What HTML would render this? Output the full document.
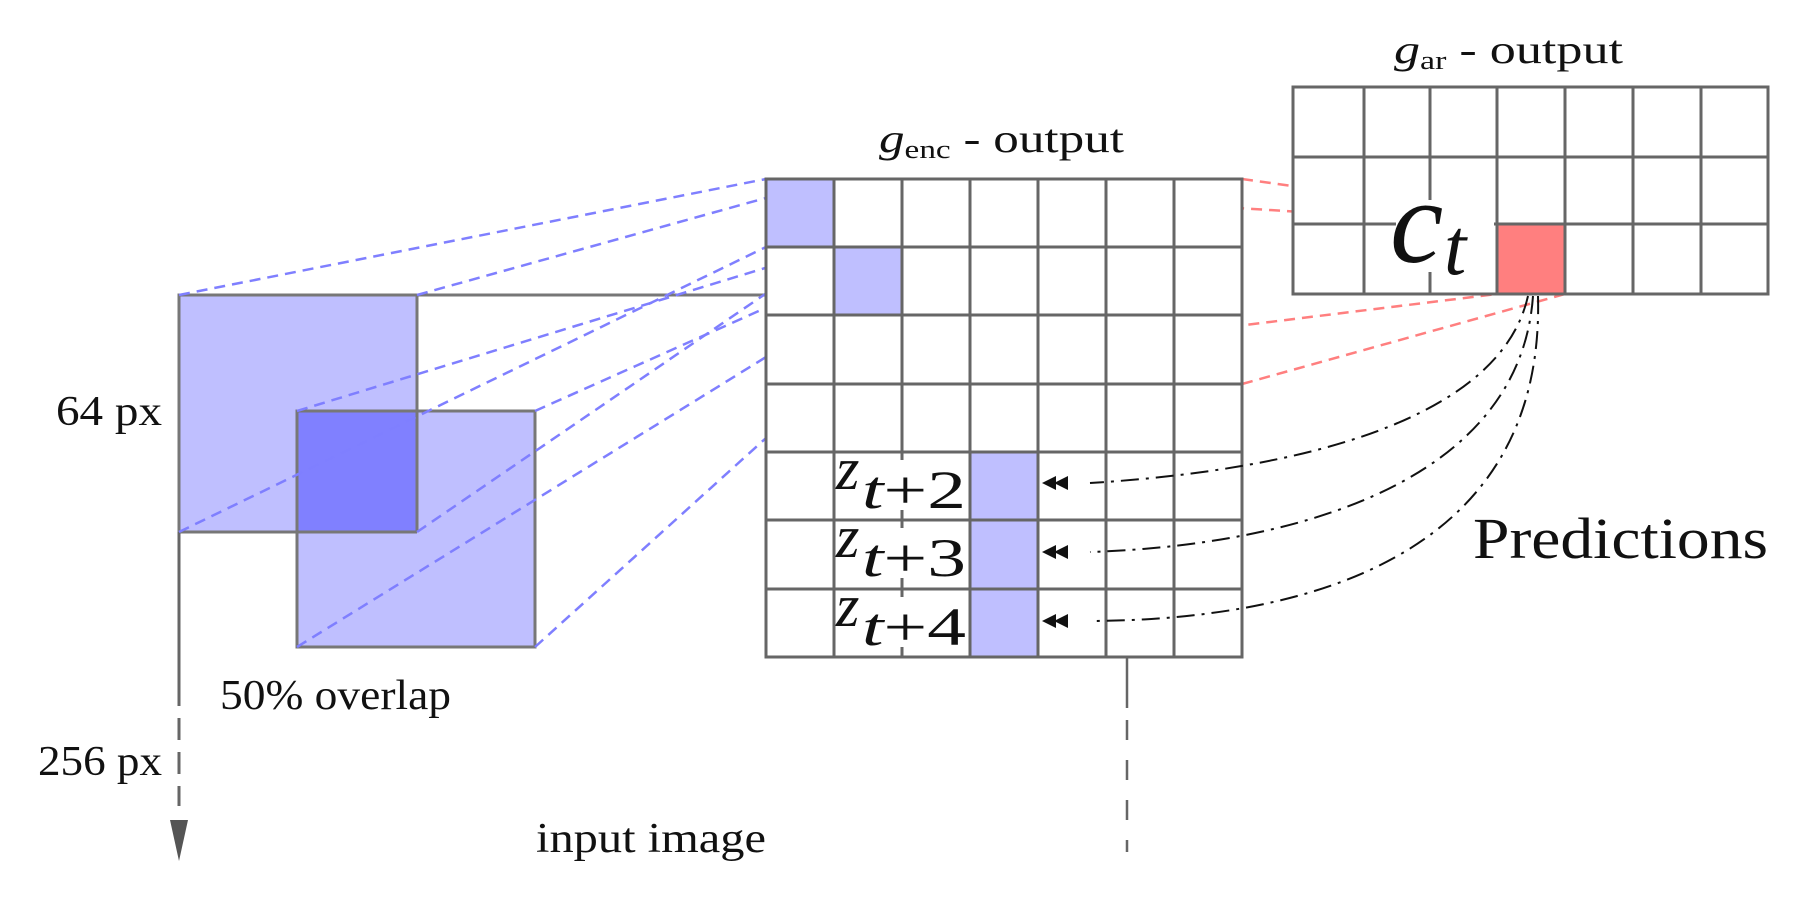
<!DOCTYPE html>
<html><head><meta charset="utf-8"><style>
html,body{margin:0;padding:0;background:#fff;}
svg{display:block;}
text{font-family:"Liberation Serif",serif;fill:#111;}
</style></head><body>
<svg width="1814" height="898" viewBox="0 0 1814 898" xmlns="http://www.w3.org/2000/svg">
<rect x="179" y="295" width="238" height="237" fill="#bfbfff" stroke="#777" stroke-width="3"/>
<rect x="297" y="411" width="238" height="236" fill="#bfbfff" stroke="#777" stroke-width="3"/>
<rect x="297" y="411" width="120" height="121" fill="#8080ff"/>
<path d="M297 411 V532 M297 411 H417 M417 411 V532 M297 532 H417" stroke="#777" stroke-width="3" fill="none"/>
<line x1="417" y1="295" x2="766" y2="295" stroke="#777" stroke-width="3"/>
<line x1="179" y1="532" x2="179" y2="706" stroke="#666" stroke-width="3"/>
<line x1="179" y1="718" x2="179" y2="806" stroke="#666" stroke-width="3" stroke-dasharray="22 12"/>
<polygon points="170,820 188,820 179,861" fill="#555"/>
<g stroke="#7f7fff" stroke-width="2.5" stroke-dasharray="11 7" fill="none">
<line x1="179" y1="295" x2="766" y2="179"/>
<line x1="417" y1="295" x2="834" y2="179"/>
<line x1="179" y1="532" x2="766" y2="247"/>
<line x1="417" y1="532" x2="834" y2="247"/>
<line x1="297" y1="411" x2="834" y2="247"/>
<line x1="535" y1="411" x2="902" y2="247"/>
<line x1="297" y1="647" x2="834" y2="315"/>
<line x1="535" y1="647" x2="902" y2="315"/>
</g>
<g stroke="#ff7f7f" stroke-width="2.5" stroke-dasharray="11 7" fill="none">
<line x1="766" y1="179" x2="1497" y2="224"/>
<line x1="1242" y1="179" x2="1565" y2="224"/>
<line x1="766" y1="384" x2="1497" y2="294"/>
<line x1="1242" y1="384" x2="1565" y2="294"/>
</g>
<rect x="766" y="179" width="476" height="478" fill="#fff"/>
<rect x="766" y="179" width="68" height="68" fill="#bfbfff"/>
<rect x="834" y="247" width="68" height="68" fill="#bfbfff"/>
<rect x="970" y="452" width="68" height="205" fill="#bfbfff"/>
<g stroke="#666" stroke-width="3" fill="none">
<rect x="766" y="179" width="476" height="478"/>
<path d="M834 179V657 M902 179V657 M970 179V657 M1038 179V657 M1106 179V657 M1174 179V657"/>
<path d="M766 247H1242 M766 315H1242 M766 384H1242 M766 452H1242 M766 520H1242 M766 589H1242"/>
</g>
<line x1="1127" y1="657" x2="1127" y2="708" stroke="#666" stroke-width="2.5"/>
<line x1="1127" y1="720" x2="1127" y2="852" stroke="#666" stroke-width="2.5" stroke-dasharray="20 20"/>
<g fill="#fff">
<rect x="836" y="460" width="132" height="50"/>
<rect x="836" y="528" width="132" height="50"/>
<rect x="836" y="597" width="132" height="50"/>
</g>
<g>
<text x="836" y="489" font-size="60" font-style="italic">z</text><text x="862" y="508" font-size="54" textLength="104" lengthAdjust="spacingAndGlyphs"><tspan font-style="italic">t</tspan>+2</text>
<text x="836" y="557" font-size="60" font-style="italic">z</text><text x="862" y="576" font-size="54" textLength="104" lengthAdjust="spacingAndGlyphs"><tspan font-style="italic">t</tspan>+3</text>
<text x="836" y="626" font-size="60" font-style="italic">z</text><text x="862" y="645" font-size="54" textLength="104" lengthAdjust="spacingAndGlyphs"><tspan font-style="italic">t</tspan>+4</text>
</g>
<rect x="1293" y="87" width="475" height="207" fill="#fff"/>
<rect x="1497" y="224" width="68" height="70" fill="#ff7f7f"/>
<g stroke="#666" stroke-width="3" fill="none">
<rect x="1293" y="87" width="475" height="207"/>
<path d="M1364 87V294 M1430 87V294 M1497 87V294 M1565 87V294 M1633 87V294 M1701 87V294"/>
<path d="M1293 157H1768 M1293 224H1768"/>
</g>
<rect x="1396" y="200" width="98" height="72" fill="#fff"/>
<text x="1390" y="262" font-size="120" font-style="italic">c</text>
<text x="1444" y="274" font-size="80" font-style="italic">t</text>
<g stroke="#111" stroke-width="2" fill="none" stroke-dasharray="18 7 3 7">
<path d="M1528 296 C1500 420 1300 470 1090 483"/>
<path d="M1533 296 C1520 480 1300 545 1090 552"/>
<path d="M1538 296 C1545 560 1300 620 1090 621"/>
</g>
<g fill="#111">
<polygon points="1042,483 1056,476 1056,490"/><polygon points="1054,483 1068,476 1068,490"/>
<polygon points="1042,552 1056,545 1056,559"/><polygon points="1054,552 1068,545 1068,559"/>
<polygon points="1042,621 1056,614 1056,628"/><polygon points="1054,621 1068,614 1068,628"/>
</g>
<text x="56" y="425" font-size="42" textLength="106" lengthAdjust="spacingAndGlyphs">64 px</text>
<text x="220" y="709" font-size="42" textLength="231" lengthAdjust="spacingAndGlyphs">50% overlap</text>
<text x="38" y="775" font-size="42" textLength="124" lengthAdjust="spacingAndGlyphs">256 px</text>
<text x="536" y="852" font-size="42" textLength="230" lengthAdjust="spacingAndGlyphs">input image</text>
<text x="1473" y="558" font-size="58" textLength="295" lengthAdjust="spacingAndGlyphs">Predictions</text>
<text x="879" y="152" font-size="40" textLength="245" lengthAdjust="spacingAndGlyphs"><tspan font-style="italic">g</tspan><tspan font-size="26" dy="6">enc</tspan><tspan dy="-6"> - output</tspan></text>
<text x="1394" y="63" font-size="40" textLength="229" lengthAdjust="spacingAndGlyphs"><tspan font-style="italic">g</tspan><tspan font-size="26" dy="6">ar</tspan><tspan dy="-6"> - output</tspan></text>
</svg>
</body></html>
